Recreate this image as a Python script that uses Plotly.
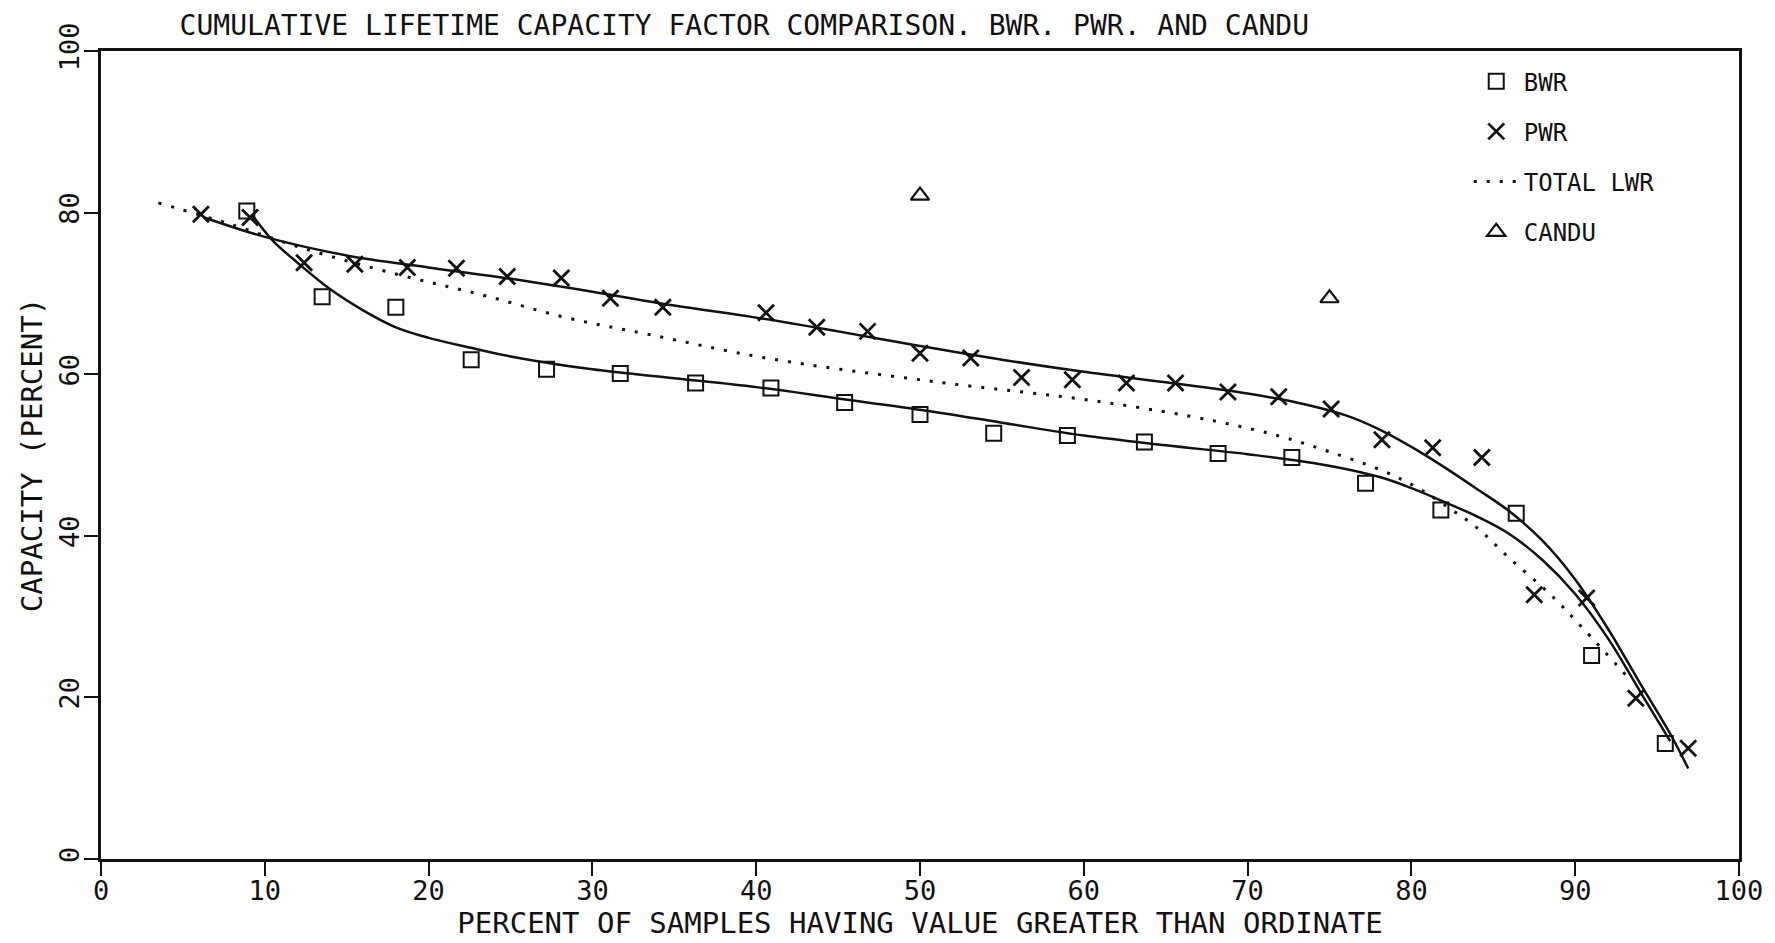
import plotly.graph_objects as go

# ---- data ----
bwr_x = [8.9, 13.5, 18.0, 22.6, 27.2, 31.7, 36.3, 40.9, 45.4, 50.0, 54.5, 59.0, 63.7, 68.2, 72.7, 77.2, 81.8, 86.4, 91.0, 95.5]
bwr_y = [80.2, 69.6, 68.3, 61.8, 60.6, 60.1, 58.9, 58.3, 56.5, 55.0, 52.7, 52.4, 51.6, 50.2, 49.7, 46.5, 43.2, 42.8, 25.2, 14.3]

pwr_x = [6.1, 9.1, 12.4, 15.5, 18.7, 21.7, 24.8, 28.1, 31.1, 34.3, 40.6, 43.7, 46.8, 50.0, 53.1, 56.2, 59.3, 62.6, 65.6, 68.8, 71.9, 75.1, 78.2, 81.3, 84.3, 87.5, 90.7, 93.7, 96.9]
pwr_y = [79.8, 79.4, 73.8, 73.6, 73.2, 73.1, 72.1, 71.9, 69.4, 68.3, 67.6, 65.8, 65.3, 62.6, 62.0, 59.6, 59.3, 58.9, 58.9, 57.8, 57.2, 55.7, 51.9, 50.9, 49.7, 32.7, 32.3, 19.9, 13.7]

candu_x = [50.0, 75.0]
candu_y = [82.1, 69.4]

# fitted curves
pwr_fit_x = [6.3, 10.0, 15.0, 20.0, 25.0, 30.0, 35.0, 40.0, 45.0, 50.0, 55.0, 60.0, 65.0, 70.0, 73.0, 76.0, 78.0, 80.0, 82.0, 84.0, 86.0, 88.0, 90.0, 92.0, 94.0, 95.8, 96.9]
pwr_fit_y = [79.4, 77.0, 74.7, 73.2, 71.8, 70.2, 68.5, 67.0, 65.3, 63.5, 61.8, 60.3, 59.0, 57.6, 56.5, 54.9, 53.2, 51.0, 48.5, 45.8, 43.0, 39.4, 34.6, 28.5, 21.6, 15.5, 11.2]

bwr_fit_x = [9.2, 10.5, 12.0, 14.0, 16.0, 18.0, 20.0, 22.5, 25.0, 30.0, 35.0, 40.0, 45.0, 50.0, 55.0, 60.0, 65.0, 70.0, 74.0, 78.0, 80.0, 82.0, 84.0, 86.0, 88.0, 90.0, 92.0, 94.0, 95.8]
bwr_fit_y = [79.8, 76.5, 73.8, 70.5, 67.9, 65.8, 64.5, 63.3, 62.2, 60.6, 59.5, 58.4, 57.0, 55.6, 54.0, 52.4, 51.2, 50.1, 49.0, 47.3, 45.9, 44.2, 42.4, 40.2, 37.0, 32.8, 27.3, 20.6, 14.6]

lwr_x = [3.5, 8.0, 12.3, 18.2, 23.3, 28.4, 33.5, 40.6, 50.8, 61.0, 68.0, 72.0, 75.0, 78.3, 80.5, 82.4, 84.0, 86.0, 88.5, 90.5, 93.3]
lwr_y = [81.2, 78.5, 75.6, 72.3, 69.8, 67.0, 64.9, 62.0, 59.1, 56.6, 54.2, 52.3, 50.4, 48.0, 45.8, 43.3, 41.0, 37.2, 32.7, 28.5, 22.3]

x_ticks = [0, 10, 20, 30, 40, 50, 60, 70, 80, 90, 100]
y_ticks = [0, 20, 40, 60, 80, 100]

title_text = "CUMULATIVE LIFETIME CAPACITY FACTOR COMPARISON. BWR. PWR. AND CANDU"
x_title = "PERCENT OF SAMPLES HAVING VALUE GREATER THAN ORDINATE"
y_title = "CAPACITY (PERCENT)"

FONT = "DejaVu Sans Mono"
INK = "#111111"

fig = go.Figure()

# curves (no legend)
fig.add_trace(go.Scatter(x=pwr_fit_x, y=pwr_fit_y, mode="lines", showlegend=False,
                         line=dict(color=INK, width=2.5, shape="spline", smoothing=1.0), hoverinfo="skip"))
fig.add_trace(go.Scatter(x=bwr_fit_x, y=bwr_fit_y, mode="lines", showlegend=False,
                         line=dict(color=INK, width=2.5, shape="spline", smoothing=1.0), hoverinfo="skip"))

# markers
fig.add_trace(go.Scatter(x=bwr_x, y=bwr_y, mode="markers", name="BWR", legendgroup="a",
                         marker=dict(symbol="square-open", size=15, color=INK, line=dict(width=2, color=INK))))
fig.add_trace(go.Scatter(x=pwr_x, y=pwr_y, mode="markers", name="PWR", legendgroup="b",
                         marker=dict(symbol="x-thin-open", size=16, color=INK, line=dict(width=2.8, color=INK))))
fig.add_trace(go.Scatter(x=lwr_x, y=lwr_y, mode="lines", name="TOTAL LWR", legendgroup="c",
                         line=dict(color=INK, width=3, dash="3px,10px", shape="spline", smoothing=1.0)))
fig.add_trace(go.Scatter(x=candu_x, y=candu_y, mode="markers", name="CANDU", legendgroup="d",
                         marker=dict(symbol="triangle-up-open", size=16, color=INK, line=dict(width=2.2, color=INK))))

axis_common = dict(
    showline=True, linecolor=INK, linewidth=2.5, mirror=True,
    ticks="outside", ticklen=14, tickwidth=2, tickcolor=INK,
    showgrid=False, zeroline=False,
    tickfont=dict(family=FONT, size=27, color=INK),
)

fig.update_xaxes(range=[0, 100], tickvals=x_ticks, ticktext=[str(v) for v in x_ticks],
                 ticklabelstandoff=-8,
                 title=dict(text=x_title, font=dict(family=FONT, size=29, color=INK), standoff=0),
                 **axis_common)
fig.update_yaxes(range=[0, 100], tickvals=y_ticks, ticktext=[str(v) for v in y_ticks], tickangle=-90,
                 ticklabelstandoff=-6,
                 title=dict(text=y_title, font=dict(family=FONT, size=29, color=INK), standoff=4),
                 **axis_common)

fig.update_layout(
    width=1775, height=943,
    margin=dict(l=101, r=36, t=51, b=84, autoexpand=False),
    paper_bgcolor="white", plot_bgcolor="white",
    font=dict(family=FONT, color=INK),
    title=dict(text=title_text, font=dict(family=FONT, size=28, color=INK),
               xref="paper", x=0.048, xanchor="left", yref="container", y=0.973, yanchor="middle"),
    legend=dict(x=0.835, y=0.99, xanchor="left", yanchor="top", bgcolor="rgba(0,0,0,0)",
                font=dict(family=FONT, size=24, color=INK), traceorder="grouped",
                tracegroupgap=16, itemwidth=45),
    showlegend=True,
)

fig.write_html("out.html")
